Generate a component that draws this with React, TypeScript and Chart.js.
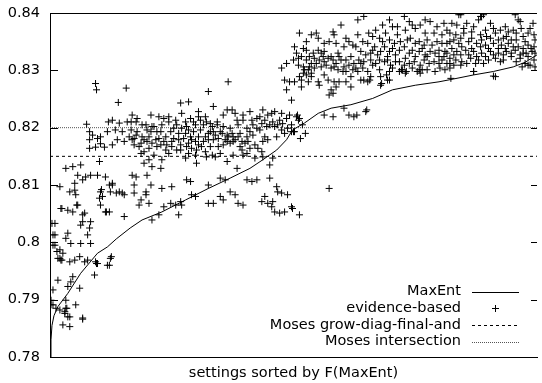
import React, { useEffect, useRef } from "react";
import { Chart, registerables } from "chart.js";

Chart.register(...registerables);

// ---------- data ----------
const xTitle = "settings sorted by F(MaxEnt)";
const seriesNames = ["MaxEnt", "evidence-based", "Moses grow-diag-final-and", "Moses intersection"];
const yMin = 0.78;
const yMax = 0.84;
const yStep = 0.01;
const settingsMax = 492;

const mosesGrowDiagFinalAnd = 0.815;
const mosesIntersection = 0.82;

// MaxEnt F-score, settings sorted by it
const maxEntIdx = [0, 1, 2, 4, 8, 18, 31, 48, 58, 67, 81, 93, 113, 137, 160, 182, 202, 215, 229, 239, 245, 257, 271, 284, 304, 326, 346, 369, 393, 408, 428, 448, 468, 480, 492];
const maxEntF = [0.78, 0.783, 0.7855, 0.7872, 0.7888, 0.7911, 0.7946, 0.7981, 0.7992, 0.8006, 0.8025, 0.8039, 0.8053, 0.8074, 0.8094, 0.8112, 0.8129, 0.8144, 0.8161, 0.8179, 0.8196, 0.8208, 0.8225, 0.8234, 0.824, 0.8251, 0.8266, 0.8274, 0.828, 0.8285, 0.8292, 0.8298, 0.8306, 0.8314, 0.8327];

// evidence-based F-score: [setting index, F]
const evidenceLeft: [number, number][] = [
  [46, 0.8277], [47, 0.8266], [77, 0.8269], [69, 0.8244], [37, 0.8206], [59, 0.821], [63, 0.8213], [70, 0.8208], [78, 0.821],
  [40, 0.8193], [43, 0.8187], [48, 0.8181], [51, 0.8184], [40, 0.8179], [46, 0.8166], [51, 0.8172], [40, 0.8164], [55, 0.8166],
  [63, 0.817], [68, 0.8179], [75, 0.8176], [80, 0.8184], [58, 0.8193], [66, 0.8196], [73, 0.8193],
  [50, 0.8141], [16, 0.8129], [23, 0.8132], [31, 0.8135],
  [28, 0.8117], [36, 0.8114], [41, 0.8117], [48, 0.8117], [56, 0.8114],
  [10, 0.8097], [25, 0.8103], [33, 0.8109], [20, 0.8088], [26, 0.8083], [25, 0.8091],
  [60, 0.81], [63, 0.8103], [70, 0.8088], [75, 0.8083], [61, 0.8088], [51, 0.8088], [50, 0.8077], [53, 0.808], [51, 0.8065],
  [56, 0.8053], [60, 0.8053], [75, 0.8045],
  [11, 0.8059], [18, 0.8056], [23, 0.8053], [28, 0.8065],
  [5, 0.8033], [35, 0.8051], [33, 0.8036], [31, 0.803], [41, 0.8036], [40, 0.8025], [38, 0.8013], [41, 0.7998],
  [5, 0.8013], [18, 0.8016], [16, 0.8007], [21, 0.7998], [31, 0.7998], [5, 0.7995], [10, 0.7987], [13, 0.7981], [11, 0.7969],
  [10, 0.7972], [20, 0.7966], [25, 0.7969], [30, 0.7975], [35, 0.7966], [38, 0.7969], [46, 0.7966], [48, 0.7963], [61, 0.7972],
  [60, 0.796], [45, 0.7943],
  [23, 0.794], [21, 0.7931], [18, 0.7923], [30, 0.792], [8, 0.7934], [3, 0.7917], [1, 0.7899], [3, 0.7891], [6, 0.7885],
  [16, 0.7899], [16, 0.7885], [26, 0.7891], [20, 0.787], [33, 0.7868], [13, 0.7856], [20, 0.7853], [15, 0.7876],
  [2, 0.8033], [3, 0.8013], [3, 0.7995], [7, 0.7984], [8, 0.7972], [12, 0.7969], [1, 0.7891], [10, 0.7882], [17, 0.7885],
  [15, 0.7879], [18, 0.787], [33, 0.7866], [12, 0.8059], [27, 0.8065], [33, 0.8048], [47, 0.7963], [62, 0.7975], [58, 0.796],
  [52, 0.8092], [57, 0.8053], [63, 0.81], [67, 0.8086], [73, 0.8086],
];

const evidenceBand: [number, number][] = [
  [160, 0.8263], [132, 0.8243], [140, 0.8245], [150, 0.8228],
  [83, 0.8222], [87, 0.821], [82, 0.8196], [85, 0.8181], [90, 0.8167], [95, 0.8158], [100, 0.8144], [103, 0.8202], [102, 0.8222],
  [110, 0.8219], [115, 0.8216], [113, 0.8205], [120, 0.821], [127, 0.8213], [133, 0.8225], [137, 0.821], [142, 0.8216],
  [147, 0.8205], [152, 0.8213], [157, 0.8219], [162, 0.8207], [88, 0.8193], [93, 0.8184], [98, 0.8176], [107, 0.8179],
  [112, 0.817], [117, 0.8184], [123, 0.8176], [130, 0.819], [135, 0.8181], [140, 0.8173], [145, 0.8193], [150, 0.8184],
  [155, 0.8176], [160, 0.819], [92, 0.8155], [105, 0.8152], [113, 0.8144], [120, 0.8155], [128, 0.8161], [137, 0.8147],
  [147, 0.8152], [148, 0.8138], [157, 0.8158], [97, 0.8205], [108, 0.8193], [125, 0.8199], [140, 0.8196], [83, 0.8179],
  [100, 0.8184], [118, 0.817], [132, 0.817], [143, 0.8164], [153, 0.8167], [162, 0.8167], [95, 0.8138], [103, 0.8132], [112, 0.8129],
  [165, 0.8237], [169, 0.821], [175, 0.8222], [184, 0.8231], [189, 0.8213], [195, 0.8222], [202, 0.8228], [209, 0.8216],
  [215, 0.8231], [220, 0.8222], [227, 0.8228], [232, 0.8213], [239, 0.8216], [244, 0.8205], [172, 0.8193], [179, 0.8187],
  [185, 0.8184], [192, 0.819], [199, 0.8199], [205, 0.8205], [212, 0.8196], [219, 0.8202], [227, 0.8202], [234, 0.8196],
  [165, 0.8179], [170, 0.8167], [179, 0.8176], [185, 0.8176], [192, 0.8167], [197, 0.8173], [202, 0.8164], [210, 0.8164],
  [164, 0.8152], [167, 0.8149], [179, 0.8141], [189, 0.8129], [194, 0.8161], [195, 0.8152], [207, 0.8147], [215, 0.8149],
  [225, 0.8147], [222, 0.8135], [169, 0.8205], [175, 0.8202], [182, 0.8199], [190, 0.8205], [165, 0.8193], [205, 0.8187],
  [217, 0.8184], [242, 0.8222], [249, 0.8219], [251, 0.8213], [246, 0.8193], [250, 0.8222], [252, 0.8216], [247, 0.8193],
];

const evidenceBandDense: [number, number][] = [
  [82, 0.821], [88, 0.8216], [93, 0.8205], [98, 0.8196], [103, 0.8173], [108, 0.8167], [110, 0.8181], [117, 0.8161],
  [123, 0.8167], [130, 0.8179], [137, 0.819], [142, 0.8184], [147, 0.8176], [152, 0.8196], [157, 0.8184], [162, 0.8193],
  [85, 0.817], [95, 0.8179], [100, 0.8164], [105, 0.8202], [112, 0.8193], [122, 0.8193], [128, 0.8205], [133, 0.8199],
  [138, 0.8167], [143, 0.8179], [150, 0.817], [155, 0.8205], [160, 0.8179], [87, 0.8187], [92, 0.8173], [102, 0.8193],
  [115, 0.8176], [125, 0.8181], [132, 0.8161], [140, 0.8155], [148, 0.8161], [158, 0.8149], [120, 0.8219], [138, 0.8202],
  [145, 0.821], [158, 0.821], [150, 0.8219],
  [164, 0.8202], [167, 0.8187], [170, 0.8181], [174, 0.819], [177, 0.8179], [180, 0.8184], [184, 0.819], [187, 0.8179],
  [190, 0.8184], [194, 0.8176], [182, 0.8173], [175, 0.817], [199, 0.8184], [202, 0.8193], [209, 0.8199], [214, 0.8207],
  [217, 0.8213], [222, 0.8205], [225, 0.821], [230, 0.8205], [235, 0.8207], [240, 0.8199], [204, 0.8213], [212, 0.8219],
  [224, 0.8225], [234, 0.8225], [195, 0.8213], [187, 0.8225], [179, 0.8231], [200, 0.8176], [207, 0.817], [215, 0.8176],
  [220, 0.8179], [229, 0.8184], [237, 0.819], [244, 0.8193], [214, 0.8158], [199, 0.8155], [185, 0.8152], [172, 0.8155],
  [255, 0.8205], [258, 0.819], [253, 0.8181],
];

const evidenceLowBand: [number, number][] = [
  [85, 0.8086], [92, 0.8074], [90, 0.8065], [97, 0.8083], [100, 0.8068], [103, 0.8039], [110, 0.8048], [115, 0.8062],
  [122, 0.8068], [127, 0.8065], [132, 0.8071], [130, 0.8048], [133, 0.8065], [143, 0.8083], [147, 0.808],
  [83, 0.8117], [87, 0.8114], [85, 0.81], [98, 0.8117], [102, 0.81], [97, 0.8088], [113, 0.8094], [123, 0.8097], [138, 0.8109],
  [142, 0.8106], [160, 0.81], [160, 0.8068],
  [172, 0.8112], [177, 0.8109], [199, 0.8109], [204, 0.8106], [209, 0.8109], [222, 0.8112], [229, 0.8097], [230, 0.8088],
  [234, 0.8086], [240, 0.8083], [165, 0.8068], [172, 0.808], [175, 0.8074], [182, 0.8088], [187, 0.8083], [190, 0.8068],
  [195, 0.8065], [214, 0.8071], [217, 0.808], [220, 0.8068], [225, 0.8071], [224, 0.8062], [227, 0.8053], [232, 0.8051],
  [237, 0.8053], [244, 0.8062], [245, 0.8059], [252, 0.8048], [282, 0.8094],
];

const evidenceUpper: [number, number][] = [
  [234, 0.8304], [239, 0.8312], [237, 0.8283], [242, 0.828], [239, 0.8266], [244, 0.8248], [180, 0.828],
  [317, 0.8394], [311, 0.8388], [294, 0.8379], [252, 0.8365], [264, 0.8362], [269, 0.8365], [286, 0.8367], [287, 0.8362],
  [282, 0.835], [277, 0.8347], [302, 0.835], [311, 0.8362], [322, 0.8365], [247, 0.8341], [256, 0.8338], [259, 0.8335],
  [266, 0.833], [271, 0.8335], [276, 0.8324], [284, 0.8324], [291, 0.833], [297, 0.8341], [306, 0.8344], [314, 0.8333],
  [321, 0.8347], [324, 0.833], [246, 0.8318], [251, 0.8321], [257, 0.8301], [262, 0.8306], [269, 0.8312], [272, 0.8318],
  [277, 0.8315], [281, 0.8321], [289, 0.8312], [294, 0.8318], [297, 0.8306], [302, 0.8309], [307, 0.8312], [312, 0.8318],
  [317, 0.8315], [326, 0.8309], [252, 0.8289], [256, 0.8295], [261, 0.8301], [267, 0.8304], [274, 0.8306], [284, 0.8304],
  [291, 0.8301], [299, 0.8298], [306, 0.8301], [311, 0.8298], [316, 0.8304], [321, 0.8298], [247, 0.828], [254, 0.8283],
  [259, 0.8292], [264, 0.8295], [271, 0.828], [281, 0.8283], [287, 0.828], [292, 0.828], [299, 0.828], [314, 0.8283],
  [321, 0.828], [284, 0.8266], [286, 0.826], [282, 0.8257], [289, 0.8271], [304, 0.8271], [319, 0.8228], [297, 0.8234],
  [302, 0.8222], [307, 0.8219], [277, 0.8222], [286, 0.8219], [272, 0.8274], [320, 0.8231], [310, 0.8222],
  [358, 0.8394], [384, 0.8385], [398, 0.8382], [336, 0.8379], [346, 0.8376], [363, 0.8385], [374, 0.8379], [406, 0.8382],
  [329, 0.837], [339, 0.8365], [351, 0.8362], [359, 0.837], [369, 0.8373], [379, 0.8365], [388, 0.8365], [396, 0.8362],
  [404, 0.8365], [333, 0.8356], [343, 0.8353], [354, 0.835], [364, 0.8356], [373, 0.835], [381, 0.8353], [391, 0.835],
  [401, 0.8347], [408, 0.8353], [328, 0.8341], [338, 0.8341], [346, 0.8338], [358, 0.8341], [366, 0.8335], [376, 0.8338],
  [384, 0.8333], [393, 0.8335], [399, 0.8333], [406, 0.8338], [331, 0.8327], [341, 0.8324], [349, 0.8327], [359, 0.8321],
  [369, 0.8324], [379, 0.8327], [389, 0.833], [398, 0.8324], [404, 0.8321], [329, 0.8312], [338, 0.8315], [344, 0.8309],
  [353, 0.8315], [363, 0.8312], [374, 0.8309], [383, 0.8312], [393, 0.8312], [401, 0.8312], [408, 0.8309], [333, 0.8301],
  [343, 0.8298], [356, 0.8301], [371, 0.8298], [376, 0.8301], [394, 0.8304], [404, 0.8304], [334, 0.8289], [341, 0.8283],
  [353, 0.8298], [359, 0.8295], [374, 0.8295], [334, 0.8274], [343, 0.8283],
  [448, 0.829], [405, 0.8286], [428, 0.8298], [413, 0.8397], [435, 0.8394], [438, 0.8397], [470, 0.8397], [473, 0.8388],
  [355, 0.8301], [360, 0.8298], [373, 0.8301], [335, 0.8277], [340, 0.8292], [317, 0.8283], [323, 0.8283],
  [415, 0.8397], [436, 0.8394], [475, 0.8385], [488, 0.8382], [411, 0.8379], [421, 0.8382], [433, 0.8388], [445, 0.8382],
  [455, 0.837], [463, 0.8367], [471, 0.8365], [485, 0.8373], [410, 0.8362], [418, 0.8365], [426, 0.8367], [435, 0.8362],
  [441, 0.8359], [450, 0.8365], [458, 0.8356], [466, 0.8353], [478, 0.8359], [489, 0.8362], [413, 0.8347], [423, 0.835],
  [431, 0.8347], [440, 0.8344], [448, 0.8347], [456, 0.8344], [463, 0.8347], [473, 0.8341], [483, 0.8344], [489, 0.8341],
  [411, 0.8333], [420, 0.8335], [428, 0.8333], [436, 0.833], [445, 0.8333], [453, 0.833], [461, 0.8333], [470, 0.8335],
  [478, 0.833], [487, 0.8333], [410, 0.8318], [416, 0.8315], [425, 0.8321], [433, 0.8318], [443, 0.8318], [450, 0.8321],
  [458, 0.8318], [466, 0.8324], [475, 0.8321], [483, 0.8324], [489, 0.8318], [415, 0.8309], [430, 0.8312], [485, 0.8309],
  [428, 0.8298], [450, 0.8289], [490, 0.8306], [477, 0.8306], [483, 0.8309],
];

const evidenceUpperDense: [number, number][] = [
  [249, 0.833], [254, 0.8324], [251, 0.8309], [256, 0.8306], [259, 0.8318], [262, 0.8324], [264, 0.8312], [267, 0.8321],
  [274, 0.833], [277, 0.8333], [279, 0.8309], [286, 0.8318], [287, 0.8306], [292, 0.8324], [296, 0.8298], [299, 0.8318],
  [304, 0.8324], [309, 0.8304], [314, 0.8312], [319, 0.8327], [324, 0.8318], [326, 0.8335], [309, 0.8341], [316, 0.835],
  [299, 0.8356], [289, 0.8347], [271, 0.8356], [259, 0.835], [264, 0.8289], [277, 0.8292], [304, 0.8289], [324, 0.8289],
  [254, 0.8271], [261, 0.828],
  [326, 0.8359], [336, 0.835], [348, 0.8347], [361, 0.8353], [369, 0.8347], [378, 0.8344], [386, 0.8344], [396, 0.8347],
  [404, 0.835], [334, 0.8333], [343, 0.8333], [353, 0.8335], [363, 0.833], [373, 0.8333], [381, 0.8324], [393, 0.8324],
  [401, 0.833], [408, 0.8327], [333, 0.8318], [341, 0.8318], [349, 0.8315], [358, 0.8309], [368, 0.8315], [378, 0.8318],
  [388, 0.8315], [396, 0.8318], [404, 0.8312], [346, 0.8304], [366, 0.8304], [381, 0.8301], [389, 0.8298], [399, 0.8301],
  [351, 0.8376], [366, 0.8379], [391, 0.8376], [401, 0.837], [343, 0.8388], [379, 0.8388],
  [418, 0.8373], [428, 0.8376], [440, 0.837], [448, 0.8373], [460, 0.8376], [468, 0.837], [476, 0.8373], [483, 0.8365],
  [415, 0.8356], [426, 0.8356], [436, 0.8353], [445, 0.8356], [453, 0.8353], [461, 0.8359], [471, 0.8353], [480, 0.835],
  [490, 0.8353], [416, 0.8341], [426, 0.8338], [435, 0.8341], [443, 0.8338], [453, 0.8338], [460, 0.8338], [468, 0.8341],
  [478, 0.8338], [486, 0.8338], [415, 0.8327], [423, 0.8327], [431, 0.8324], [440, 0.8324], [448, 0.8327], [458, 0.8327],
  [466, 0.833], [475, 0.8327], [481, 0.833], [490, 0.833], [421, 0.8312], [438, 0.8312], [455, 0.8315], [471, 0.8315],
  [480, 0.8312],
];

const evidencePoints = [
  ...evidenceLeft,
  ...evidenceBand,
  ...evidenceBandDense,
  ...evidenceLowBand,
  ...evidenceUpper,
  ...evidenceUpperDense,
];

// ---------- drawing ----------
const FONT = '"DejaVu Sans", sans-serif';
const FONT_SIZE = 14.5;

const framePlugin = {
  id: "frameAndLegend",
  afterDraw(chart: any) {
    const { ctx, chartArea } = chart;
    const { left, right, top, bottom } = chartArea;
    const yScale = chart.scales.y;
    ctx.save();
    ctx.strokeStyle = "#000";
    ctx.lineWidth = 1;
    // top frame
    ctx.beginPath();
    ctx.moveTo(left, Math.round(top) + 0.5);
    ctx.lineTo(right, Math.round(top) + 0.5);
    ctx.stroke();
    // inward ticks (left and mirrored right)
    yScale.ticks.forEach((t: any) => {
      const py = Math.round(yScale.getPixelForValue(t.value)) + 0.5;
      ctx.beginPath();
      ctx.moveTo(left, py);
      ctx.lineTo(left + 8, py);
      ctx.moveTo(right - 6, py);
      ctx.lineTo(right, py);
      ctx.stroke();
    });

    // legend (gnuplot style: text right-aligned, sample on the right)
    ctx.font = `${FONT_SIZE}px ${FONT}`;
    ctx.fillStyle = "#000";
    ctx.textAlign = "right";
    ctx.textBaseline = "middle";
    const textX = right - 76;
    const s0 = right - 65;
    const s1 = right - 18;
    const rows = [bottom - 65.3, bottom - 48.7, bottom - 32, bottom - 15.3];
    seriesNames.forEach((name, i) => {
      const y = rows[i];
      ctx.fillText(name, textX, y);
      const ly = Math.round(y) + 0.5;
      ctx.beginPath();
      ctx.strokeStyle = "#000";
      if (i === 0) {
        ctx.setLineDash([]);
        ctx.moveTo(s0, ly);
        ctx.lineTo(s1, ly);
        ctx.stroke();
      } else if (i === 1) {
        const cx = (s0 + s1) / 2;
        ctx.setLineDash([]);
        ctx.moveTo(cx - 3.5, ly);
        ctx.lineTo(cx + 3.5, ly);
        ctx.moveTo(cx, ly - 3.5);
        ctx.lineTo(cx, ly + 3.5);
        ctx.stroke();
      } else if (i === 2) {
        ctx.setLineDash([3, 3]);
        ctx.moveTo(s0, ly);
        ctx.lineTo(s1, ly);
        ctx.stroke();
      } else {
        ctx.setLineDash([1, 1]);
        ctx.strokeStyle = "#555";
        ctx.moveTo(s0, ly);
        ctx.lineTo(s1, ly);
        ctx.stroke();
      }
    });
    ctx.restore();
  },
};

export default function App() {
  const canvasRef = useRef<HTMLCanvasElement | null>(null);

  useEffect(() => {
    const canvas = canvasRef.current;
    if (!canvas) return;
    const chart = new Chart(canvas, {
      type: "scatter",
      data: {
        datasets: [
          {
            label: seriesNames[0],
            type: "line",
            data: maxEntIdx.map((x, i) => ({ x, y: maxEntF[i] })),
            borderColor: "#000",
            borderWidth: 1,
            pointRadius: 0,
            tension: 0,
            fill: false,
          } as any,
          {
            label: seriesNames[1],
            data: evidencePoints.map(([x, y]) => ({ x, y })),
            pointStyle: "cross",
            pointRadius: 3.5,
            borderColor: "#000",
            backgroundColor: "#000",
            borderWidth: 1,
          },
          {
            label: seriesNames[2],
            type: "line",
            data: [
              { x: 0, y: mosesGrowDiagFinalAnd },
              { x: settingsMax, y: mosesGrowDiagFinalAnd },
            ],
            borderColor: "#000",
            borderWidth: 1,
            borderDash: [3, 3],
            pointRadius: 0,
          } as any,
          {
            label: seriesNames[3],
            type: "line",
            data: [
              { x: 0, y: mosesIntersection },
              { x: settingsMax, y: mosesIntersection },
            ],
            borderColor: "#555",
            borderWidth: 1,
            borderDash: [1, 1],
            pointRadius: 0,
          } as any,
        ],
      },
      options: {
        animation: false,
        responsive: false,
        devicePixelRatio: 1,
        layout: { padding: { top: 13, right: 0, left: 0, bottom: 0 } },
        plugins: {
          legend: { display: false },
          tooltip: { enabled: false },
        },
        scales: {
          x: {
            type: "linear",
            min: 0,
            max: settingsMax,
            grid: { display: false, drawTicks: false },
            border: { display: true, color: "#000", width: 1 },
            ticks: { display: false },
            title: {
              display: true,
              text: xTitle,
              color: "#000",
              font: { family: FONT, size: FONT_SIZE },
              padding: { top: 0, bottom: 1 },
            },
            afterFit: (s: any) => {
              s.height = 26;
            },
          },
          y: {
            type: "linear",
            min: yMin,
            max: yMax,
            grid: { display: false, drawTicks: true, tickLength: 10 },
            border: { display: true, color: "#000", width: 1 },
            ticks: {
              stepSize: yStep,
              padding: 0,
              color: "#000",
              font: { family: FONT, size: FONT_SIZE },
              callback: (v: any) => String(Number(Number(v).toFixed(2))),
            },
            afterFit: (s: any) => {
              s.width = 50;
            },
          },
        },
      },
      plugins: [framePlugin],
    });
    return () => chart.destroy();
  }, []);

  return (
    <div style={{ position: "absolute", left: 0, top: 0, width: 542, height: 383, background: "#fff" }}>
      <canvas ref={canvasRef} width={542} height={383} />
    </div>
  );
}
